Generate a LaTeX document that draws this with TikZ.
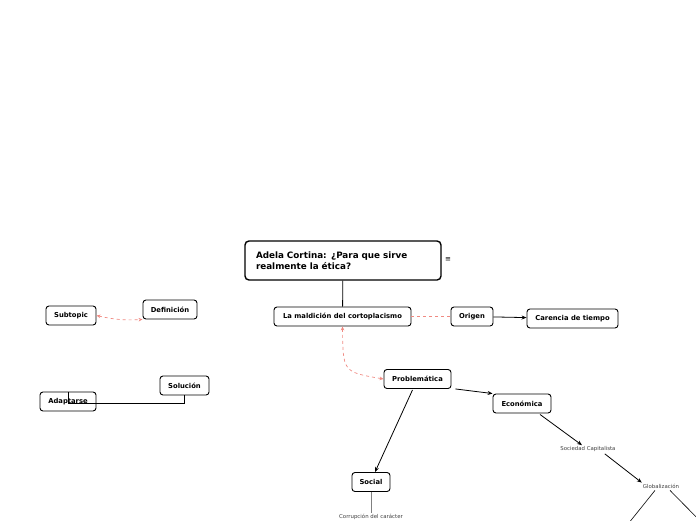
\documentclass[tikz,border=0pt]{standalone}
\usepackage{fontspec}
\setmainfont{DejaVu Sans}
\usepackage{xcolor}
\usetikzlibrary{positioning, arrows.meta, calc}

\definecolor{dashred}{HTML}{F08A82}

\begin{document}
\begin{tikzpicture}[x=1pt, y=-1pt,
    topic/.style={rectangle, draw, rounded corners=3pt, fill=white, line width=0.9pt,
                  minimum height=19pt, inner sep=2pt, align=center, font=\fontsize{6.8}{8}\selectfont\bfseries},
    central/.style={rectangle, draw, rounded corners=4pt, fill=white, line width=1.4pt,
                    text width=174pt, minimum height=39pt, inner xsep=11pt, align=left,
                    font=\fontsize{8.8}{11}\selectfont\bfseries},
    plain/.style={inner sep=1pt, text=black!75, font=\fontsize{5.4}{6}\selectfont},
    arr/.style={-{Stealth[length=5pt, width=4pt]}, line width=0.8pt},
    link/.style={line width=0.8pt},
    rel/.style={{Stealth[length=4pt, width=3.5pt]}-{Stealth[length=4pt, width=3.5pt]}, dashred, dashed, line width=0.7pt}
]
\useasboundingbox (0,0) rectangle (696,520);

\node[central] (title) at (343,260.5) {Adela Cortina: ¿Para que sirve\\realmente la ética?};
\node[font=\fontsize{7}{8}\selectfont] (menu) at (448,260) {≡};

\node[topic, minimum width=137pt] (mald)    at (342.5,316.5) {La maldición del cortoplacismo};
\node[topic, minimum width=42pt]  (origen)  at (472,316.5)   {Origen};
\node[topic, minimum width=91pt]  (carenc)  at (572.5,318.5) {Carencia de tiempo};
\node[topic, minimum width=54pt]  (defin)   at (170,309.5)   {Definición};
\node[topic, minimum width=50pt]  (subtop)  at (71,315.5)    {Subtopic};
\node[topic, minimum width=49pt]  (soluc)   at (184.5,385.5) {Solución};
\node[topic, minimum width=56pt]  (adapt)   at (68,401.5)    {Adaptarse};
\node[topic, minimum width=67pt]  (probl)   at (417.5,379)   {Problemática};
\node[topic, minimum width=58pt]  (econ)    at (522,403.5)   {Económica};
\node[topic, minimum width=38pt]  (social)  at (371,482)     {Social};

\node[plain] (socap) at (588,449)   {Sociedad Capitalista};
\node[plain] (glob)  at (661,486)   {Globalización};
\node[plain, anchor=south] (corr) at (371,520.5) {Corrupción del carácter};

% continuations below the visible area
\coordinate (globL) at (620,534);
\coordinate (globR) at (712,533);
\coordinate (join) at (68,403);

\draw[link] (title) -- (mald);
\draw[dashred, dashed, line width=0.7pt] (mald) -- (origen);
\draw[arr] (origen) -- (carenc);
\draw[rel] (mald.south) .. controls (343,372) .. (probl.west);
\draw[rel] (subtop.east) to[bend right=8] (defin.south west);
\draw[link] (soluc.south) |- (join) -- (adapt.north);
\draw[arr] ($(probl.south)+(-5,1)$) -- ($(social.north)+(4,0)$);
\draw[arr] ($(probl.south east)+(4,0)$) -- (econ.north west);
\draw[arr] ($(econ.south)+(18,1)$) -- ($(socap.north)+(-6,0)$);
\draw[arr] ($(socap.south east)+(-12,1)$) -- (glob.north west);
\draw[link, line width=0.6pt] ($(glob.south)+(-6,1)$) -- (globL);
\draw[link, line width=0.6pt] ($(glob.south)+(9,1)$) -- (globR);
\draw[link, line width=0.5pt, gray] (social) -- (corr);

\end{tikzpicture}
\end{document}
